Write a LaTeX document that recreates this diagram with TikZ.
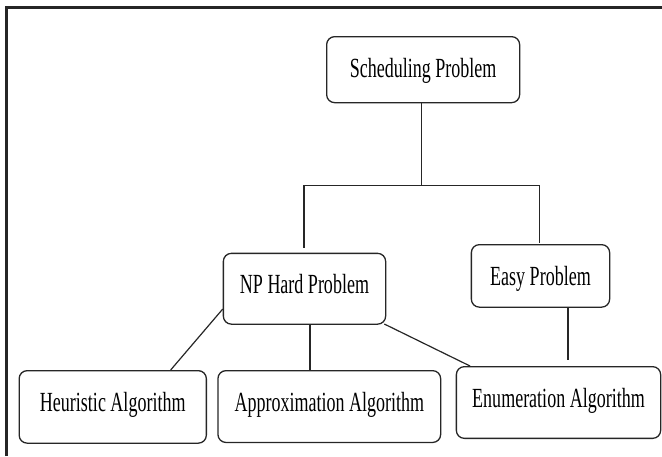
\documentclass[tikz,border=0pt]{standalone}
\usepackage{fontspec}
\setmainfont[FakeStretch=0.65]{Liberation Serif}
\begin{document}
\begin{tikzpicture}[x=1pt,y=-1pt,
  box/.style={draw=black!85, line width=1.3pt, rounded corners=8pt, anchor=north west,
    inner xsep=0pt, inner ysep=0pt, text height=40.5pt, align=center,
    font=\fontsize{27.7}{30}\selectfont},
  conn/.style={draw=black!85, line width=1.2pt}]
\useasboundingbox (0,0) rectangle (662,456);
\draw[line width=3pt, black!85] (6.5,456) -- (6.5,7.5) -- (662,7.5);
\node[box, minimum width=193pt, minimum height=66pt, text depth=25.5pt] (sched) at (326,36) {Scheduling Problem};
\node[box, minimum width=162.3pt, minimum height=70.8pt, text depth=30.3pt] (np) at (222.7,252.7) {NP Hard Problem};
\node[box, minimum width=138.3pt, minimum height=62.5pt, text depth=22pt] (easy) at (470.7,244) {Easy Problem};
\node[box, minimum width=187.2pt, minimum height=72.5pt, text depth=32pt] (heur) at (18.5,370) {Heuristic Algorithm};
\node[box, minimum width=222.7pt, minimum height=71.8pt, text depth=31.3pt] (approx) at (217.3,370) {Approximation Algorithm};
\node[box, minimum width=204.3pt, minimum height=71.7pt, text depth=31.2pt] (enum) at (455.7,366) {Enumeration Algorithm};
\coordinate (j) at (421.3,185.3);
\coordinate (jl) at (304,185.3);
\coordinate (jr) at (539.5,185.3);
\draw[conn] (sched.south -| j) -- (j);
\draw[conn] (jl) -- (jr);
\draw[conn, shorten >=4.7pt] (jl) -- (jl |- np.north);
\draw[conn, shorten >=1.3pt] (jr) -- (jr |- easy.north);
\draw[conn] ([yshift=-20.3pt]np.west) -- ([xshift=57.9pt]heur.north);
\draw[conn] ([xshift=5.5pt]np.south) -- ([xshift=5.5pt]np.south |- approx.north);
\draw[conn] ([xshift=-2pt,yshift=0.8pt]np.south east) -- ([xshift=14.3pt]enum.north west);
\draw[conn, shorten >=6pt] ([xshift=27.5pt]easy.south) -- ([xshift=27.5pt]easy.south |- enum.north);
\end{tikzpicture}
\end{document}
